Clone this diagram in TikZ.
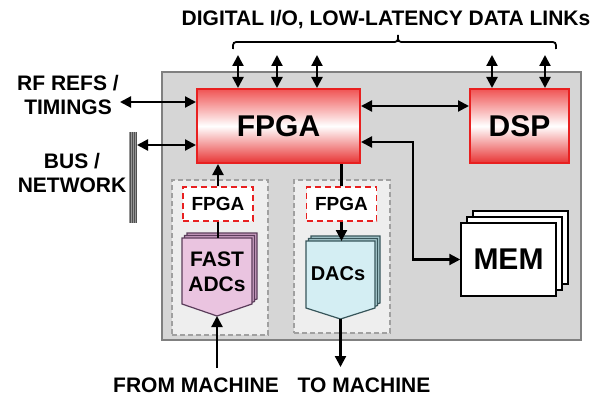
\documentclass[tikz,border=0pt]{standalone}
\usepackage{fontspec}
\setmainfont{Liberation Sans}
\usetikzlibrary{arrows.meta}

\definecolor{panel}{RGB}{214,214,214}
\definecolor{panelline}{RGB}{128,128,128}
\definecolor{subpanel}{RGB}{238,238,238}
\definecolor{subline}{RGB}{160,160,160}
\definecolor{chipred}{RGB}{232,32,32}
\definecolor{chiptop}{RGB}{240,84,84}
\definecolor{chipbot}{RGB}{232,52,52}
\definecolor{adcfill}{RGB}{234,196,224}
\definecolor{adcback}{RGB}{205,160,196}
\definecolor{adcline}{RGB}{90,60,90}
\definecolor{dacfill}{RGB}{212,238,243}
\definecolor{dacback}{RGB}{170,205,210}
\definecolor{dacline}{RGB}{55,85,90}
\definecolor{busfill}{RGB}{150,150,150}
\definecolor{busline}{RGB}{80,80,80}

\tikzset{
  lbl/.style={font=\fontsize{21}{23}\selectfont\bfseries, align=center, inner sep=0pt},
  biglbl/.style={font=\fontsize{30}{32}\selectfont\bfseries},
  dbl/.style={line width=2.2pt, {Triangle[length=11pt,width=11pt]}-{Triangle[length=11pt,width=11pt]}},
  one/.style={line width=2.2pt, -{Triangle[length=11pt,width=11pt]}},
  wire/.style={line width=2.2pt},
  chip/.style={draw=chipred, line width=2pt, top color=chiptop, bottom color=chipbot,
    middle color=white, biglbl, inner sep=0pt},
  subfpga/.style={draw=chipred, line width=1.5pt, dash pattern=on 6pt off 4pt, fill=white,
    font=\fontsize{19}{21}\selectfont\bfseries, inner sep=0pt,
    minimum width=70pt, minimum height=34pt},
  page/.style={draw=black, line width=1.5pt, fill=white},
  subbox/.style={draw=subline, line width=1.2pt, dash pattern=on 5pt off 3pt, fill=subpanel}
}

\begin{document}
\begin{tikzpicture}[x=1pt, y=-1pt]
  \useasboundingbox (0,0) rectangle (614,396);

  % main board
  \node[draw=panelline, line width=1.5pt, fill=panel, minimum width=419pt, minimum height=268pt,
        inner sep=0pt] (board) at (371.5,206) {};

  % converter sub-areas
  \node[subbox, minimum width=96pt, minimum height=155pt, inner sep=0pt] (adcarea) at (220,257.5) {};
  \node[subbox, minimum width=96pt, minimum height=153pt, inner sep=0pt] (dacarea) at (342,256.5) {};

  % processing chips
  \node[chip, minimum width=163pt, minimum height=74pt] (fpga) at (278.5,126) {FPGA};
  \node[chip, minimum width=99pt, minimum height=74pt] (dsp) at (519.5,126) {DSP};

  % memory stack
  \draw[page] (473,211) rectangle (568,284);
  \draw[page] (467,217) rectangle (562,290);
  \node[page, minimum width=95pt, minimum height=73pt, inner sep=0pt, biglbl] (mem) at (508.5,259.5) {MEM};

  % local FPGAs
  \node[subfpga] (afpga) at (218,204) {FPGA};
  \node[subfpga] (dfpga) at (341.5,204) {FPGA};

  % fast ADC stack
  \draw[draw=adcline, line width=1.2pt, fill=adcback]
    (187,233) -- (257,233) -- (257,299) -- (222,311) -- (187,299) -- cycle;
  \draw[draw=adcline, line width=1.2pt, fill=adcback]
    (184.5,235.5) -- (254.5,235.5) -- (254.5,301.5) -- (219.5,313.5) -- (184.5,301.5) -- cycle;
  \draw[draw=adcline, line width=1.2pt, fill=adcfill]
    (182,238) -- (252,238) -- (252,304) -- (217,316) -- (182,304) -- cycle;
  \coordinate (adctop) at (217,238);
  \coordinate (adctip) at (217,316);
  \node[lbl] (adc) at (217,272) {FAST\\[2pt]ADCs};

  % DAC stack
  \draw[draw=dacline, line width=1.2pt, fill=dacback]
    (311,236) -- (380,236) -- (380,303) -- (345.5,314) -- (311,303) -- cycle;
  \draw[draw=dacline, line width=1.2pt, fill=dacback]
    (308.5,238.5) -- (377.5,238.5) -- (377.5,305.5) -- (343,316.5) -- (308.5,305.5) -- cycle;
  \draw[draw=dacline, line width=1.2pt, fill=dacfill]
    (306,241) -- (375,241) -- (375,308) -- (340.5,319) -- (306,308) -- cycle;
  \coordinate (dactop) at (341.5,241);
  \coordinate (dactip) at (340.5,319);
  \node[lbl, font=\fontsize{20}{22}\selectfont\bfseries] (dac) at (338,274) {DACs};

  % backplane bus
  \node[fill=busfill, minimum width=8pt, minimum height=91pt, inner sep=0pt] (bus) at (133,177.5) {};
  \foreach \bx in {130,132,134,136}
    \draw[busline, line width=0.8pt] (\bx,132) -- (\bx,223);

  % labels
  \node[lbl] (title) at (386,20) {DIGITAL I/O, LOW-LATENCY DATA LINKs};
  \node[lbl] (rflbl) at (68,95) {RF REFS /\\[1pt]TIMINGS};
  \node[lbl] (buslbl) at (72,173) {BUS /\\[1pt]NETWORK};
  \node[lbl] (fromlbl) at (196,385) {FROM MACHINE};
  \node[lbl] (tolbl) at (364,385) {TO MACHINE};

  % brace under the title
  \coordinate (brL) at (233,49);
  \coordinate (brM) at (398,35);
  \coordinate (brR) at (556,49);
  \draw[line width=1.8pt]
    (brL) .. controls (233,42) .. (240,42) -- (391,42)
    .. controls (398,42) .. (brM) .. controls (398,42) .. (405,42)
    -- (549,42) .. controls (556,42) .. (brR);

  % digital I/O links
  \foreach \lx in {238,277,317}
    \draw[dbl] (\lx,55) -- (\lx,0 |- fpga.north);
  \foreach \lx in {492,545}
    \draw[dbl] (\lx,55) -- (\lx,0 |- dsp.north);

  % external references and bus
  \coordinate (rfend) at (120,102);
  \draw[dbl] (rfend) -- (rfend -| fpga.west);
  \coordinate (busport) at (137,145);
  \draw[dbl] (busport) -- (busport -| fpga.west);

  % FPGA to DSP and memory
  \coordinate (dsprow) at (0,106);
  \draw[dbl] (dsprow -| fpga.east) -- (dsprow -| dsp.west);
  \coordinate (memrow) at (0,142);
  \coordinate (membend) at (413,142);
  \draw[dbl] (memrow -| fpga.east) -- (membend) |- (mem.west);

  % ADC path
  \draw[one] (afpga.north) -- (afpga.north |- fpga.south);
  \draw[wire] (afpga.south) -- (afpga.south |- adctop);
  \coordinate (frommach) at (217,368);
  \draw[one] (frommach) -- (adctip);

  % DAC path
  \draw[wire] (dfpga.north |- fpga.south) -- (dfpga.north);
  \draw[one] (dfpga.south) -- (dactop);
  \coordinate (tomach) at (340.5,367);
  \draw[one] (dactip) -- (tomach);
\end{tikzpicture}
\end{document}
